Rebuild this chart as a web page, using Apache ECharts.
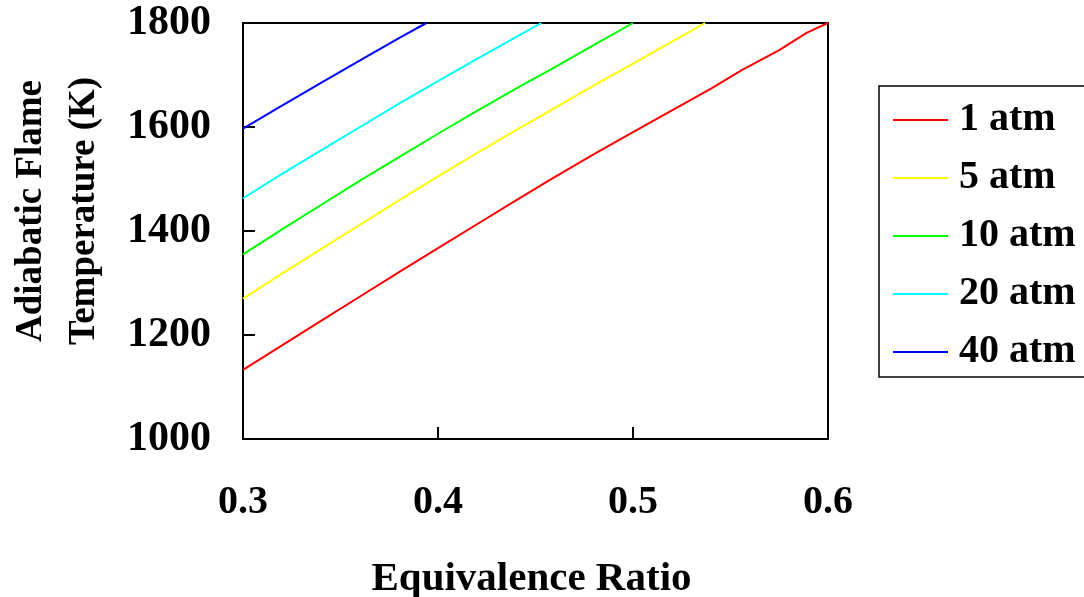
<!DOCTYPE html>
<html>
<head>
<meta charset="utf-8">
<script src="https://cdn.jsdelivr.net/npm/echarts@6/dist/echarts.min.js"></script>
<style>html,body{margin:0;padding:0;background:#fff}#c{width:1084px;height:597px}</style>
</head>
<body>
<div id="c"></div>
<script>
var seriesNames = ['1 atm', '5 atm', '10 atm', '20 atm', '40 atm'];
var seriesColors = ['#ff0000', '#ffff00', '#00ff00', '#00ffff', '#0000ff'];
var atm1 = [[0.30,1133],[0.32,1180],[0.34,1227],[0.36,1274],[0.38,1321],[0.40,1367],[0.42,1413],[0.44,1459],[0.46,1504],[0.48,1548],[0.50,1590],[0.52,1632],[0.54,1674],[0.556,1710],[0.575,1748],[0.589,1781],[0.60,1800]];
var atm5 = [[0.30,1270],[0.32,1318],[0.34,1365],[0.36,1412],[0.38,1459],[0.40,1505],[0.42,1550],[0.44,1594],[0.46,1637],[0.48,1680],[0.50,1722],[0.52,1764],[0.537,1800]];
var atm10 = [[0.30,1355],[0.32,1403],[0.34,1450],[0.36,1497],[0.38,1542],[0.40,1587],[0.42,1631],[0.44,1674],[0.46,1715],[0.48,1758],[0.50,1800]];
var atm20 = [[0.30,1463],[0.32,1510],[0.34,1555],[0.36,1600],[0.38,1645],[0.40,1688],[0.42,1731],[0.44,1773],[0.453,1800]];
var atm40 = [[0.30,1597],[0.32,1641],[0.34,1685],[0.36,1728],[0.38,1771],[0.394,1800]];
var xTitle = 'Equivalence Ratio';
var yTitle = ['Adiabatic Flame', 'Temperature (K)'];

var FONT = '"Liberation Serif","Times New Roman",serif';
var allData = [atm1, atm5, atm10, atm20, atm40];
var chart = echarts.init(document.getElementById('c'), null, {renderer: 'canvas'});
chart.setOption({
  animation: false,
  backgroundColor: '#fff',
  grid: {left: 243, right: 256, top: 23, bottom: 158, containLabel: false, outerBoundsMode: 'none',
    show: true, borderColor: '#000', borderWidth: 2},
  xAxis: {
    type: 'value', min: 0.3, max: 0.6, interval: 0.1,
    axisLine: {lineStyle: {color: '#000', width: 2}},
    axisTick: {inside: true, length: 12, lineStyle: {color: '#000', width: 2}},
    splitLine: {show: false},
    axisLabel: {margin: 44, color: '#000', fontFamily: FONT, fontWeight: 'bold', fontSize: 40,
      formatter: function (v) { return v.toFixed(1); }},
    name: xTitle, nameLocation: 'middle', nameGap: 120,
    nameTextStyle: {color: '#000', fontFamily: FONT, fontWeight: 'bold', fontSize: 41, padding: [0, 8, 0, 0]}
  },
  yAxis: {
    type: 'value', min: 1000, max: 1800, interval: 200,
    axisLine: {lineStyle: {color: '#000', width: 2}},
    axisTick: {inside: true, length: 12, lineStyle: {color: '#000', width: 2}},
    splitLine: {show: false},
    axisLabel: {margin: 32, color: '#000', fontFamily: FONT, fontWeight: 'bold', fontSize: 42,
      formatter: function (v) { return String(v); }}
  },
  legend: {
    orient: 'vertical', left: 879, top: 86,
    padding: [14, 40, 5, 14], itemGap: 18, itemWidth: 55, itemHeight: 2, icon: 'rect',
    borderColor: '#000', borderWidth: 1.5,
    textStyle: {color: '#000', fontFamily: FONT, fontWeight: 'bold', fontSize: 40, lineHeight: 40, padding: [0, 0, 0, 6]},
    data: seriesNames
  },
  graphic: [
    {type: 'text', x: 31, y: 211, rotation: Math.PI / 2,
      style: {text: yTitle[0], fill: '#000', font: 'bold 37px ' + FONT, align: 'center', verticalAlign: 'middle'}},
    {type: 'text', x: 84, y: 211, rotation: Math.PI / 2,
      style: {text: yTitle[1], fill: '#000', font: 'bold 37px ' + FONT, align: 'center', verticalAlign: 'middle'}}
  ],
  series: seriesNames.map(function (n, i) {
    return {name: n, type: 'line', data: allData[i], symbol: 'none', showSymbol: false,
      lineStyle: {color: seriesColors[i], width: 2}, itemStyle: {color: seriesColors[i]}};
  })
});
</script>
</body>
</html>
